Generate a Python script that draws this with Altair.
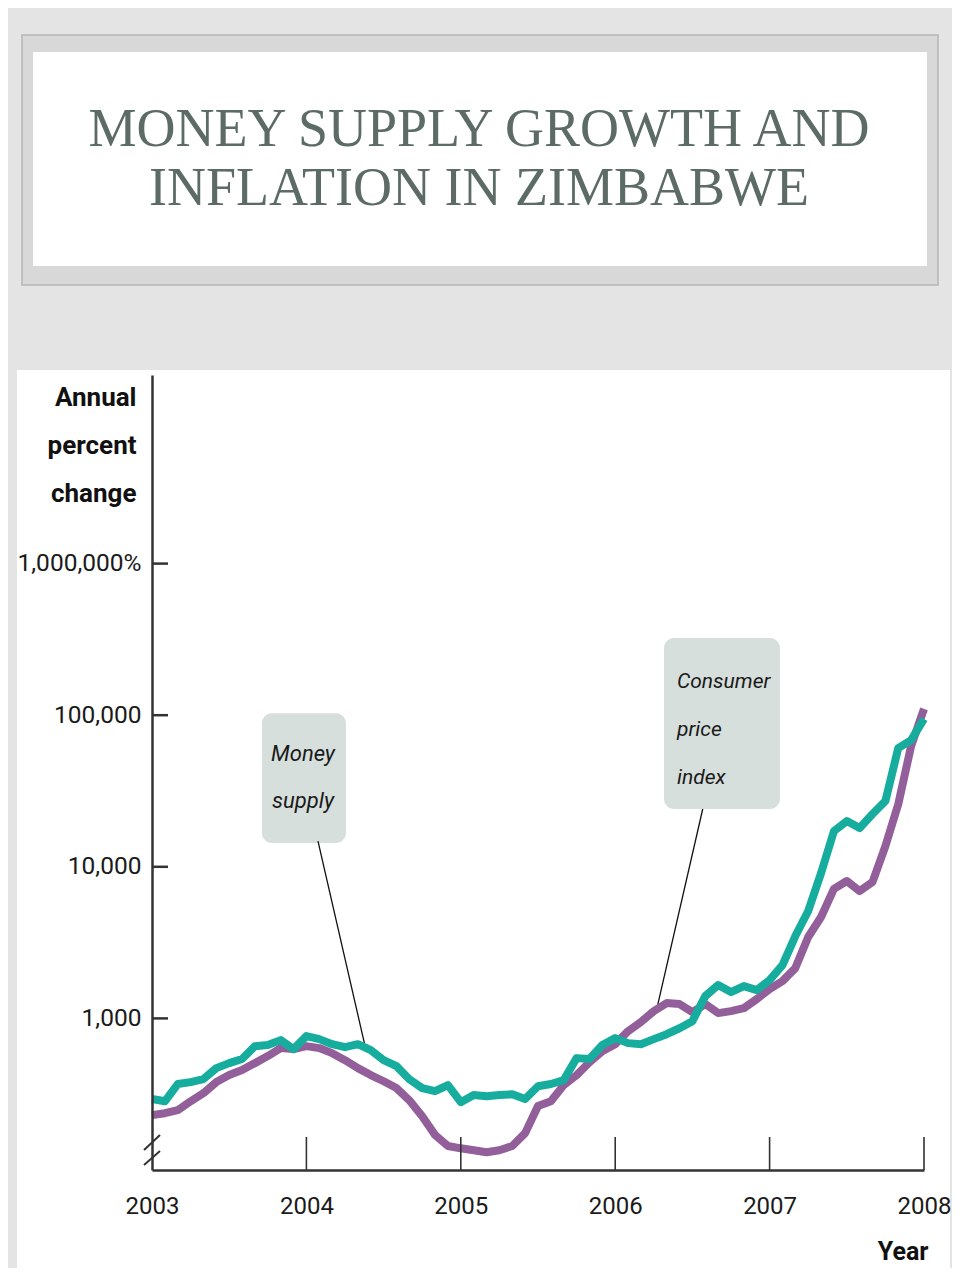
import altair as alt
import pandas as pd

# ---------------- data ----------------
start_year = 2003
n_months = 61  # Jan 2003 .. Jan 2008, monthly
money_supply = [294, 284, 369, 380, 398, 470, 507, 540, 656, 667, 719, 627,
                764, 730, 676, 646, 676, 617, 530, 484, 397, 347, 331, 363,
                280, 312, 307, 312, 316, 294, 357, 369, 392, 547, 540, 667,
                741, 687, 676, 730, 787, 861, 959, 1403, 1660, 1491, 1633, 1537,
                1790, 2249, 3494, 5108, 9087, 17200, 20040, 18020, 22300, 27160, 60700, 68500,
                94400]
cpi = [230, 237, 248, 284, 321, 380, 423, 456, 507, 564, 637, 627,
       656, 637, 590, 530, 470, 423, 385, 347, 288, 226, 170, 144,
       139, 135, 131, 135, 144, 175, 264, 284, 363, 423, 514, 608,
       676, 824, 946, 1117, 1262, 1243, 1101, 1243, 1084, 1117, 1169, 1340,
       1561, 1763, 2148, 3443, 4667, 7145, 8060, 6920, 7940, 13700, 25930, 62650,
       110000]
x_ticks = [2003, 2004, 2005, 2006, 2007, 2008]
y_ticks = [1000, 10000, 100000, 1000000]
y_domain = [100, 17540000]
title_lines = ["MONEY SUPPLY GROWTH AND", "INFLATION IN ZIMBABWE"]
y_title = ["Annual", "percent", "change"]

# annotation boxes / labels (data coordinates)
box_names = ["Money supply", "Consumer price index"]
box_x1 = [2003.712, 2006.316]
box_x2 = [2004.256, 2007.067]
box_y1 = [103000, 322700]
box_y2 = [14350, 24050]
money_text = ["Money", "supply"]
money_text_x = [2003.978, 2003.978]
money_text_y = [49800, 24460]
cpi_text = ["Consumer", "price", "index"]
cpi_text_x = [2006.40, 2006.40, 2006.40]
cpi_text_y = [150300, 72900, 35200]
leader_x1 = [2004.075, 2006.567]
leader_x2 = [2004.380, 2006.269]
leader_y1 = [14770, 24050]
leader_y2 = [656, 1152]

# ---------------- tables ----------------
years = [start_year + m / 12 for m in range(n_months)]
lines_df = pd.DataFrame({
    "year": years * 2,
    "value": money_supply + cpi,
    "series": ["Money supply"] * n_months + ["Consumer price index"] * n_months,
})
boxes_df = pd.DataFrame({"name": box_names, "x1": box_x1, "x2": box_x2,
                         "y1": box_y1, "y2": box_y2})
money_df = pd.DataFrame({"t": money_text, "x": money_text_x, "y": money_text_y})
cpi_df = pd.DataFrame({"t": cpi_text, "x": cpi_text_x, "y": cpi_text_y})
leader_df = pd.DataFrame({"x1": leader_x1, "x2": leader_x2,
                          "y1": leader_y1, "y2": leader_y2})
xt_df = pd.DataFrame({"year": x_ticks[1:]})
yt_df = pd.DataFrame({"v": y_ticks})
one = pd.DataFrame({"k": [0]})

TEAL = "#17ad9e"
PURPLE = "#935f9b"
AX = "#333333"
SANS = "Roboto, Liberation Sans, sans-serif"

xscale = alt.Scale(domain=[2003, 2008], nice=False, zero=False)
yscale = alt.Scale(type="log", domain=y_domain, nice=False)

label_expr = ("datum.value >= 1000000 ? '1,000,000%' : "
              "datum.value >= 100000 ? '100,000' : "
              "datum.value >= 10000 ? '10,000' : '1,000'")

x_axis = alt.Axis(values=x_ticks, format="d", ticks=False, tickSize=0, grid=False,
                  domainColor=AX, domainWidth=2.5, labelFont=SANS, labelFontSize=24,
                  labelColor="#1a1a1a", labelPadding=24, labelBaseline="top",
                  title="Year", titleFont=SANS, titleFontSize=25, titleFontWeight="bold",
                  titleColor="#111111", titleAnchor="end", titleAlign="right",
                  titleX=776, titleY=89, titleBaseline="alphabetic", zindex=1,
                  labelFlush=False, labelOverlap=False)
y_axis = alt.Axis(values=y_ticks, labelExpr=label_expr, ticks=False, tickSize=0, grid=False,
                  domainColor=AX, domainWidth=2.5, labelFont=SANS, labelFontSize=24.5,
                  labelColor="#1a1a1a", labelPadding=11, labelBaseline="middle",
                  title=y_title, titleFont=SANS, titleFontSize=26, titleFontWeight="bold",
                  titleColor="#111111", titleAngle=0, titleAlign="right", titleBaseline="alphabetic",
                  titleX=-16, titleY=30, titleLineHeight=48, zindex=1,
                  labelFlush=False, labelOverlap=False)

# ---------------- decorations (slide background) ----------------
base_one = alt.Chart(one)
white_area = base_one.mark_rect(color="white").encode(
    x=alt.value(-135), x2=alt.value(798), y=alt.value(-5), y2=alt.value(910))
title_outer = base_one.mark_rect(color="#d8d8d8", stroke="#b5b5b5", strokeWidth=1.5).encode(
    x=alt.value(-130), x2=alt.value(786), y=alt.value(-340), y2=alt.value(-90))
title_inner = base_one.mark_rect(color="white").encode(
    x=alt.value(-119), x2=alt.value(775), y=alt.value(-323), y2=alt.value(-109))
title1 = base_one.mark_text(text=title_lines[0], font="Liberation Serif", fontSize=54,
                            color="#5c6b65", align="center", baseline="alphabetic").encode(
    x=alt.value(327), y=alt.value(-229))
title2 = base_one.mark_text(text=title_lines[1], font="Liberation Serif", fontSize=54,
                            color="#5c6b65", align="center", baseline="alphabetic").encode(
    x=alt.value(327), y=alt.value(-170))
slash1 = base_one.mark_rule(color=AX, strokeWidth=2).encode(
    x=alt.value(-8), x2=alt.value(8), y=alt.value(775), y2=alt.value(760))
slash2 = base_one.mark_rule(color=AX, strokeWidth=2).encode(
    x=alt.value(-8), x2=alt.value(8), y=alt.value(790), y2=alt.value(776))

# ---------------- ticks ----------------
xt = alt.Chart(xt_df).mark_rule(color=AX, strokeWidth=1.6).encode(
    x=alt.X("year:Q", scale=xscale, axis=x_axis), y=alt.value(795), y2=alt.value(762))
yt = alt.Chart(yt_df).mark_rule(color=AX, strokeWidth=2.5).encode(
    y=alt.Y("v:Q", scale=yscale, axis=y_axis), x=alt.value(0), x2=alt.value(16))

# ---------------- annotations ----------------
boxes = alt.Chart(boxes_df).mark_rect(color="#d7dfdc", cornerRadius=10).encode(
    x=alt.X("x1:Q", scale=xscale), x2="x2:Q",
    y=alt.Y("y1:Q", scale=yscale), y2="y2:Q")
leaders = alt.Chart(leader_df).mark_rule(color="#111111", strokeWidth=1.3).encode(
    x=alt.X("x1:Q", scale=xscale), x2="x2:Q",
    y=alt.Y("y1:Q", scale=yscale), y2="y2:Q")
money_lbl = alt.Chart(money_df).mark_text(font=SANS, fontSize=22, fontStyle="italic",
                                          color="#1a1a1a", align="center",
                                          baseline="alphabetic").encode(
    x=alt.X("x:Q", scale=xscale), y=alt.Y("y:Q", scale=yscale), text="t:N")
cpi_lbl = alt.Chart(cpi_df).mark_text(font=SANS, fontSize=21, fontStyle="italic",
                                      color="#1a1a1a", align="left",
                                      baseline="alphabetic").encode(
    x=alt.X("x:Q", scale=xscale), y=alt.Y("y:Q", scale=yscale), text="t:N")

# ---------------- data lines ----------------
series_lines = alt.Chart(lines_df).mark_line(strokeWidth=8, strokeJoin="round").encode(
    x=alt.X("year:Q", scale=xscale),
    y=alt.Y("value:Q", scale=yscale),
    color=alt.Color("series:N",
                    scale=alt.Scale(domain=["Consumer price index", "Money supply"],
                                    range=[PURPLE, TEAL]),
                    legend=None),
    order=alt.Order("year:Q"),
    detail="series:N",
)
cpi_line = series_lines.transform_filter(alt.datum.series == "Consumer price index")
ms_line = series_lines.transform_filter(alt.datum.series == "Money supply")

chart = alt.layer(
    white_area, title_outer, title_inner, title1, title2,
    boxes, leaders, money_lbl, cpi_lbl,
    cpi_line, ms_line,
    xt, yt, slash1, slash2,
).properties(
    width=772, height=795,
    padding={"left": 144, "top": 367, "right": 28, "bottom": 98},
    autosize=alt.AutoSizeParams(type="none"),
    background="#e4e4e4",
).configure_view(stroke=None, fill=None)

chart.save("out.html", embed_options={"renderer": "svg", "actions": False})
